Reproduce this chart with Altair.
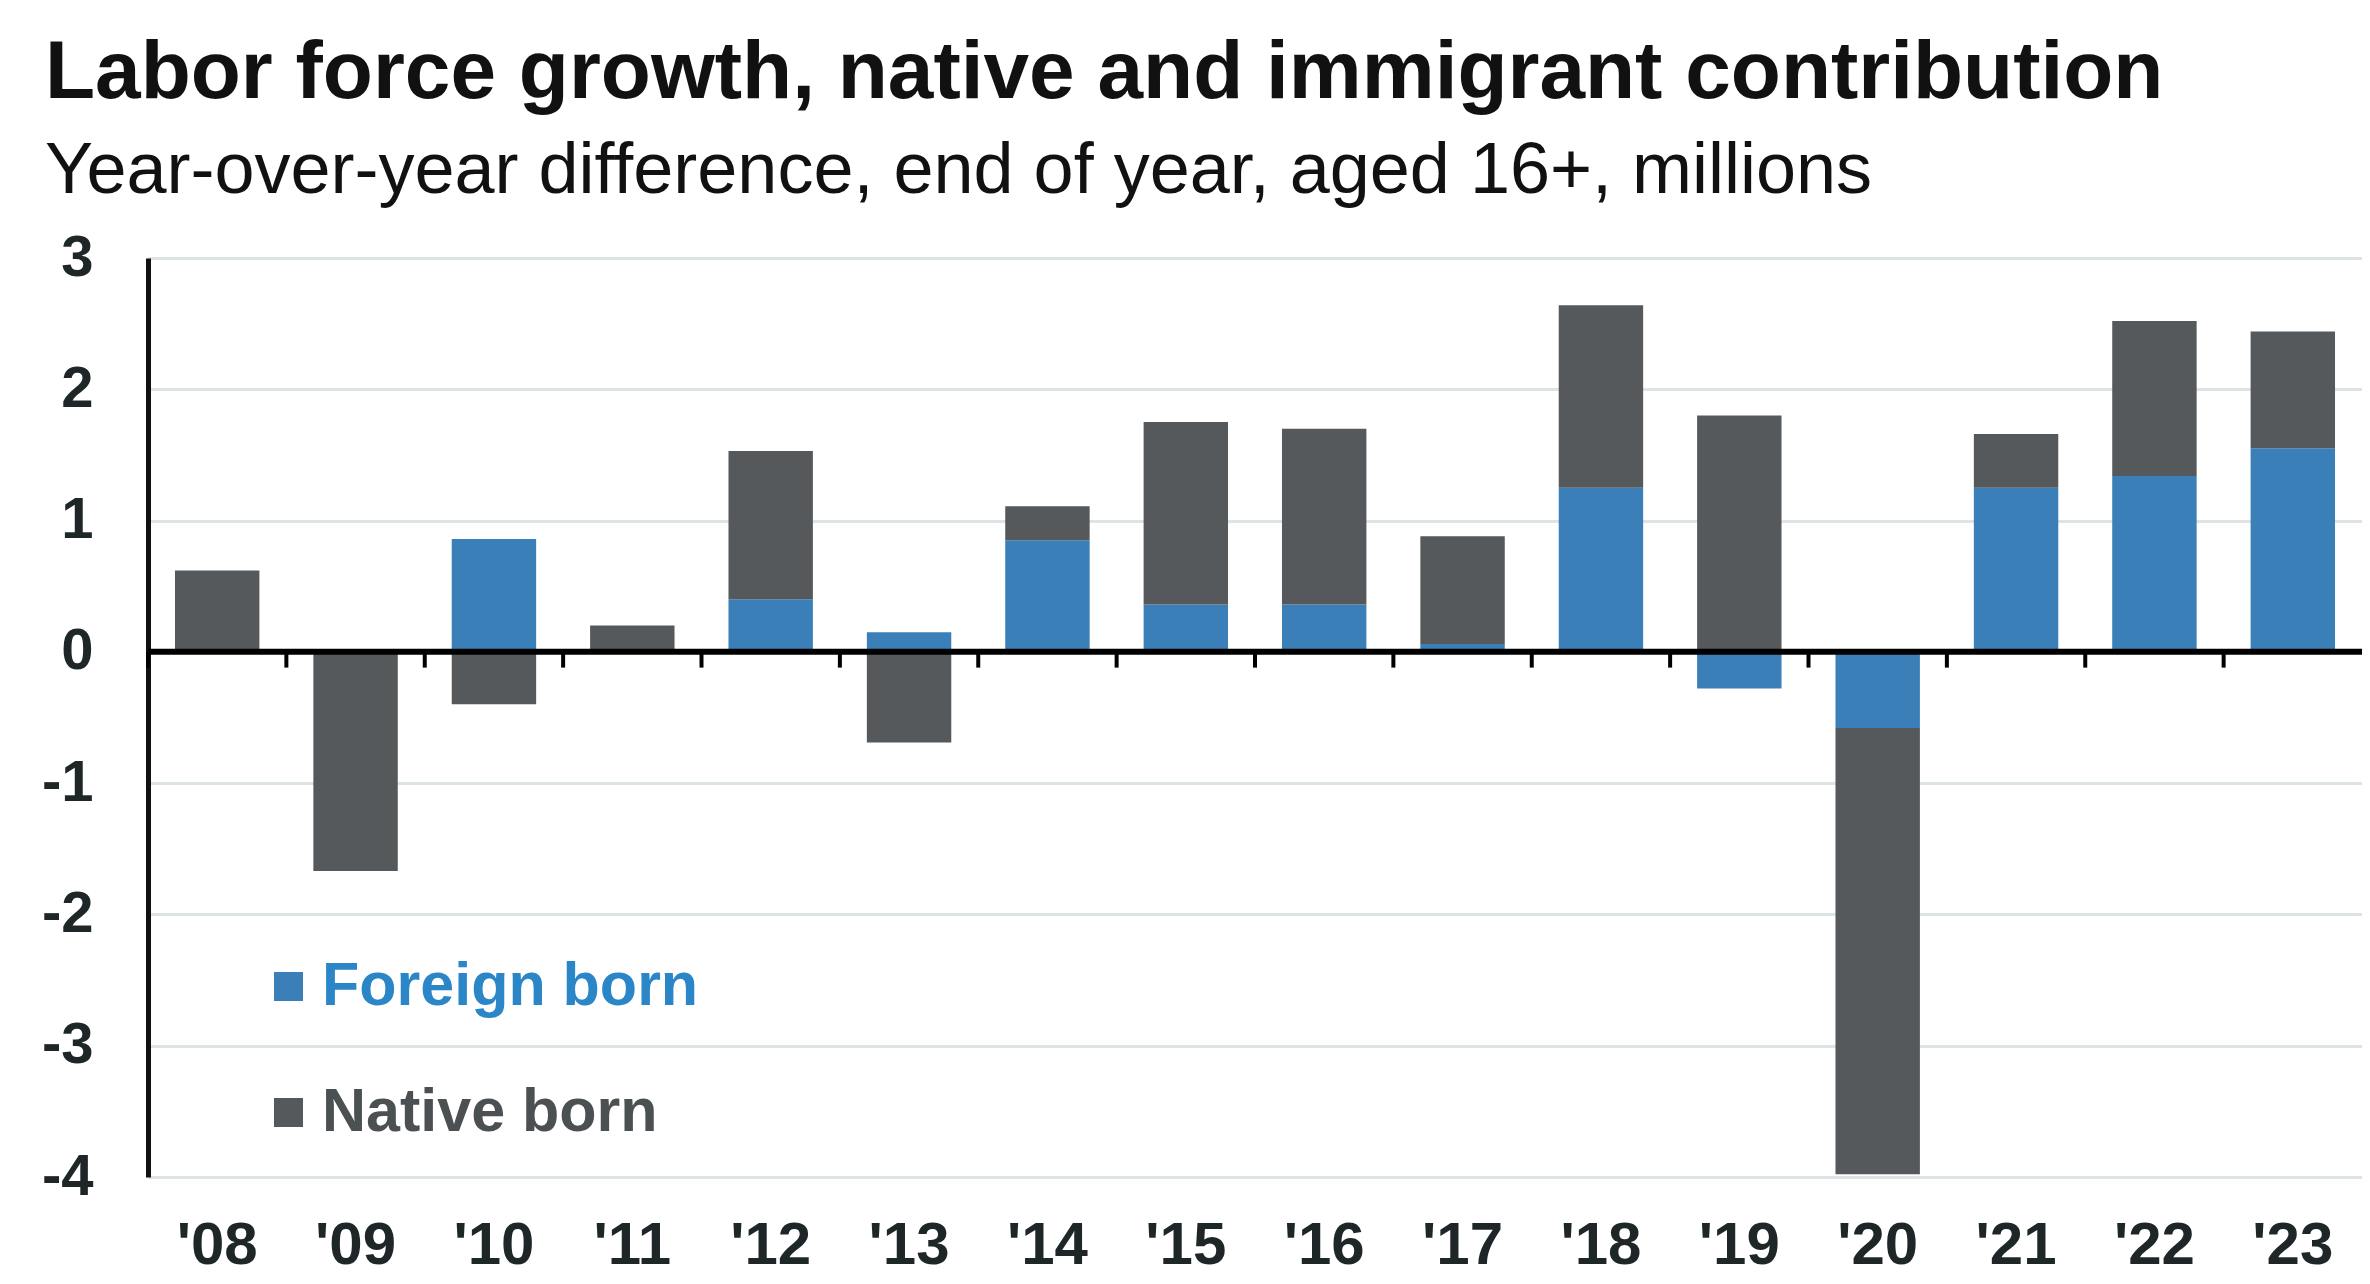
import altair as alt
import pandas as pd

years = ["'08", "'09", "'10", "'11", "'12", "'13", "'14", "'15",
         "'16", "'17", "'18", "'19", "'20", "'21", "'22", "'23"]
foreign = [0.0, 0.0, 0.86, 0.0, 0.40, 0.15, 0.85, 0.36,
           0.36, 0.06, 1.25, -0.28, -0.58, 1.25, 1.34, 1.55]
native = [0.62, -1.67, -0.40, 0.20, 1.13, -0.69, 0.26, 1.39,
          1.34, 0.82, 1.39, 1.80, -3.40, 0.41, 1.18, 0.89]
series = ["Foreign born", "Native born"]
y_ticks = [-4, -3, -2, -1, 0, 1, 2, 3]

BLUE = "#3a7fb8"
GRAY = "#55595b"
FONT = "Liberation Sans"

rows = []
for i, yr in enumerate(years):
    rows.append({"year": yr, "group": series[0], "value": foreign[i], "order": 0})
    rows.append({"year": yr, "group": series[1], "value": native[i], "order": 1})
df = pd.DataFrame(rows)

x_enc = alt.X("year:N", sort=years, title=None,
              scale=alt.Scale(paddingInner=0, paddingOuter=0))

bars = alt.Chart(df).mark_bar(width=alt.RelativeBandSize(0.61)).encode(
    x=x_enc,
    y=alt.Y("value:Q", stack="zero", title=None,
            scale=alt.Scale(domain=[-4, 3], nice=False, zero=False),
            axis=alt.Axis(values=y_ticks, labelExpr="'' + datum.value")),
    color=alt.Color("group:N", title=None,
                    scale=alt.Scale(domain=series, range=[BLUE, GRAY]),
                    legend=alt.Legend(
                        orient="none", legendX=110, legendY=698,
                        direction="vertical",
                        symbolType="square", symbolSize=841,
                        symbolStrokeWidth=0, symbolOpacity=1,
                        labelFont=FONT, labelFontSize=61, labelFontWeight="bold",
                        labelLimit=1000,
                        labelOffset=3, rowPadding=64, padding=0,
                        labelColor={"expr": "datum.value === 'Foreign born' ? '#2b86c8' : '#4b5053'"},
                    )),
    order=alt.Order("order:Q"),
)

zero_line = alt.Chart(pd.DataFrame({"zero": [0]})).mark_rule(
    color="#000000", strokeWidth=6
).encode(y=alt.Y("zero:Q", title=None))

ticks = alt.Chart(pd.DataFrame({"year": years})).mark_rule(
    color="#000000", strokeWidth=4
).encode(
    x=alt.X("year:N", sort=years, title=None, bandPosition=0),
    y=alt.datum(0),
    y2=alt.datum(-0.12),
)

chart = alt.layer(bars, zero_line, ticks).properties(
    width=2214,
    height=919,
    autosize=alt.AutoSizeParams(type="none"),
    padding={"left": 140, "top": 250, "right": 0, "bottom": 98},
    title=alt.TitleParams(
        text="Labor force growth, native and immigrant contribution",
        subtitle="Year-over-year difference, end of year, aged 16+, millions",
        anchor="start", frame="group", dx=-103, offset=21,
        font=FONT, fontSize=82, fontWeight="bold", color="#111111",
        subtitleFont=FONT, subtitleFontSize=72, subtitleColor="#111111",
        subtitlePadding=21,
    ),
).configure_view(stroke=None).configure_axisX(
    domain=False, ticks=False, grid=False,
    labelFont=FONT, labelFontSize=60, labelFontWeight="bold", labelColor="#1e2628",
    labelAngle=0, labelBaseline="alphabetic", labelPadding=86,
).configure_axisY(
    domain=True, domainColor="#111111", domainWidth=5,
    ticks=False, grid=True, gridColor="#dde4e6", gridWidth=3,
    labelFont=FONT, labelFontSize=58, labelFontWeight="bold", labelColor="#1e2628",
    labelPadding=55,
)

chart.save("out.html", embed_options={"renderer": "svg", "actions": False})
